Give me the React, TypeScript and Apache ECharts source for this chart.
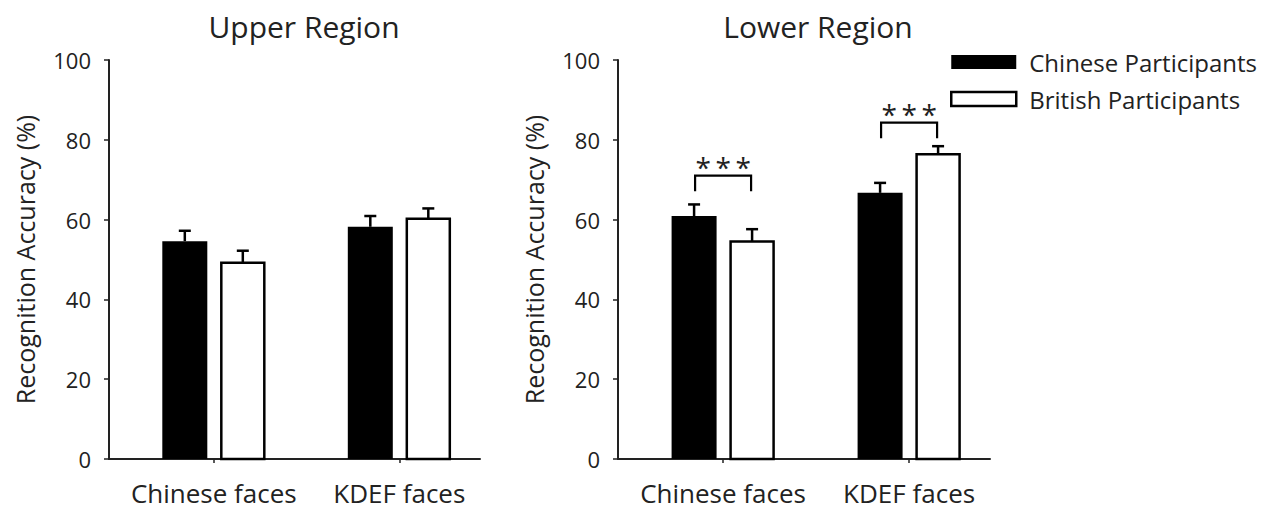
import React, { useEffect, useRef } from "react";
import * as echarts from "echarts";

const categories = ["Chinese faces", "KDEF faces"];
const seriesNames = ["Chinese Participants", "British Participants"];
const panelTitles = ["Upper Region", "Lower Region"];

// Upper region
const upperChinese = [54.6, 58.2];
const upperChineseErr = [2.6, 2.7];
const upperBritish = [49.2, 60.2];
const upperBritishErr = [3.0, 2.6];

// Lower region
const lowerChinese = [60.9, 66.7];
const lowerChineseErr = [2.9, 2.5];
const lowerBritish = [54.5, 76.4];
const lowerBritishErr = [3.1, 2.0];

// significance brackets (lower region), bracket level in %
const sigLevels = [71.0, 84.3];
const sigLabels = ["***", "***"];

const FONT = '"Open Sans", sans-serif';
const TXT = "#222";
const BAR_W = 45;
const OFFSET = 29;

function barRenderer(offset: number, filled: boolean) {
  return (params: any, api: any) => {
    const x = api.value(0);
    const v = api.value(1);
    const e = api.value(2);
    const base = api.coord([x, 0]);
    const top = api.coord([x, v]);
    const et = api.coord([x, v + e]);
    const cx = base[0] + offset;
    const rect = filled
      ? {
          type: "rect",
          shape: { x: cx - BAR_W / 2, y: top[1], width: BAR_W, height: base[1] - top[1] },
          style: { fill: "#000" },
        }
      : {
          type: "rect",
          shape: { x: cx - BAR_W / 2 + 1, y: top[1], width: BAR_W - 2, height: base[1] - top[1] },
          style: { fill: "#fff", stroke: "#000", lineWidth: 2.5 },
        };
    return {
      type: "group",
      children: [
        {
          type: "line",
          shape: { x1: cx, y1: top[1], x2: cx, y2: et[1] },
          style: { stroke: "#000", lineWidth: 2.5 },
        },
        {
          type: "line",
          shape: { x1: cx - 6, y1: et[1], x2: cx + 6, y2: et[1] },
          style: { stroke: "#000", lineWidth: 2.5 },
        },
        rect,
      ],
    };
  };
}

function sigRenderer(params: any, api: any) {
  const x = api.value(0);
  const lvl = api.value(1);
  const idx = params.dataIndex;
  const c = api.coord([x, lvl]);
  const low = api.coord([x, lvl - 3.9]);
  const xl = c[0] - OFFSET + 1;
  const xr = c[0] + OFFSET - 1;
  const chars = sigLabels[idx].split("");
  const stars = chars.map((ch, k) => ({
    type: "text",
    x: c[0] + (k - (chars.length - 1) / 2) * 20,
    y: c[1] + 5,
    style: {
      text: ch,
      fill: TXT,
      font: `28px ${FONT}`,
      align: "center",
      verticalAlign: "bottom",
    },
  }));
  return {
    type: "group",
    children: [
      {
        type: "polyline",
        shape: { points: [[xl, low[1]], [xl, c[1]], [xr, c[1]], [xr, low[1]]] },
        style: { stroke: "#000", lineWidth: 2.2, fill: "none" },
      },
      ...stars,
    ],
  };
}

function mk(vals: number[], errs: number[]) {
  return vals.map((v, i) => [i, v, errs[i]]);
}

export default function App() {
  const ref = useRef<HTMLDivElement>(null);
  useEffect(() => {
    if (!ref.current) return;
    const chart = echarts.init(ref.current, null, { renderer: "svg" });
    const grids = [
      { left: 109, top: 60, width: 371, height: 399 },
      { left: 618, top: 60, width: 372, height: 399 },
    ];
    const xAxes = grids.map((_, gi) => ({
      type: "value",
      gridIndex: gi,
      min: -0.565,
      max: 1.435,
      splitLine: { show: false },
      axisLine: { show: true, onZero: false, lineStyle: { color: "#222", width: 2 } },
      axisTick: { show: true, customValues: [0, 1], length: 4, lineStyle: { color: "#222", width: 1.5 } },
      axisLabel: {
        customValues: [0, 1],
        formatter: (v: number) => categories[Math.round(v)] ?? "",
        color: TXT,
        fontFamily: FONT,
        fontSize: 26,
        margin: 21,
      },
    }));
    const yAxes = grids.map((_, gi) => ({
      type: "value",
      gridIndex: gi,
      min: 0,
      max: 100,
      interval: 20,
      name: "Recognition Accuracy (%)",
      nameLocation: "middle",
      nameRotate: 90,
      nameGap: 72,
      nameTextStyle: { color: TXT, fontFamily: FONT, fontSize: 25 },
      splitLine: { show: false },
      axisLine: { show: true, onZero: false, lineStyle: { color: "#222", width: 2 } },
      axisTick: { show: true, length: 5, lineStyle: { color: "#222", width: 1.5 } },
      axisLabel: { color: TXT, fontFamily: FONT, fontSize: 22, margin: 18 },
    }));
    const panels = [
      [mk(upperChinese, upperChineseErr), mk(upperBritish, upperBritishErr)],
      [mk(lowerChinese, lowerChineseErr), mk(lowerBritish, lowerBritishErr)],
    ];
    const series: any[] = [];
    panels.forEach((p, gi) => {
      series.push({
        type: "custom",
        name: seriesNames[0],
        coordinateSystem: "cartesian2d",
        xAxisIndex: gi,
        yAxisIndex: gi,
        itemStyle: { color: "#000" },
        encode: { x: 0, y: 1 },
        data: p[0],
        renderItem: barRenderer(-OFFSET, true),
      });
      series.push({
        type: "custom",
        name: seriesNames[1],
        coordinateSystem: "cartesian2d",
        xAxisIndex: gi,
        yAxisIndex: gi,
        itemStyle: { color: "#fff", borderColor: "#000", borderWidth: 2 },
        encode: { x: 0, y: 1 },
        data: p[1],
        renderItem: barRenderer(OFFSET, false),
      });
    });
    series.push({
      type: "custom",
      name: "sig",
      coordinateSystem: "cartesian2d",
      xAxisIndex: 1,
      yAxisIndex: 1,
      encode: { x: 0, y: 1 },
      data: sigLevels.map((l, i) => [i, l]),
      renderItem: sigRenderer,
      z: 5,
    });
    const titleStyle = { color: TXT, fontFamily: FONT, fontSize: 30, fontWeight: "normal" };
    chart.setOption({
      animation: false,
      backgroundColor: "#fff",
      title: [
        { text: panelTitles[0], left: 299, top: 6, textAlign: "center", textStyle: titleStyle },
        { text: panelTitles[1], left: 813, top: 6, textAlign: "center", textStyle: titleStyle },
      ],
      legend: {
        orient: "vertical",
        left: 945,
        top: 45,
        itemWidth: 65,
        itemHeight: 14,
        itemGap: 13,
        data: [
          { name: seriesNames[0], icon: "rect", itemStyle: { color: "#000", borderWidth: 0 } },
          { name: seriesNames[1], icon: "rect", itemStyle: { color: "#fff", borderColor: "#000", borderWidth: 2.5 } },
        ],
        textStyle: { color: TXT, fontFamily: FONT, fontSize: 24, padding: [0, 0, 0, 8] },
      },
      grid: grids,
      xAxis: xAxes,
      yAxis: yAxes,
      series,
    });
    return () => chart.dispose();
  }, []);
  return (
    <div
      ref={ref}
      style={{ position: "fixed", left: 0, top: 0, width: 1280, height: 513, background: "#fff" }}
    />
  );
}
